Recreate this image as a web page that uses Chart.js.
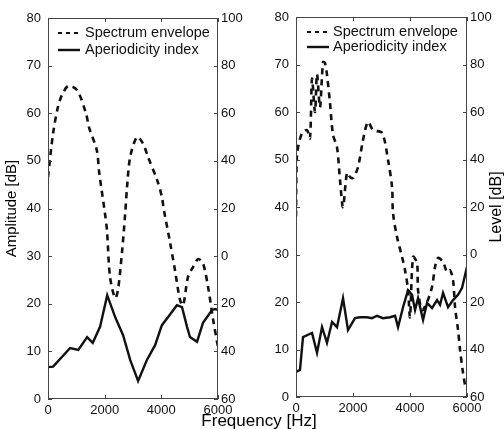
<!DOCTYPE html>
<html>
<head>
<meta charset="utf-8">
<script src="https://cdn.jsdelivr.net/npm/chart.js@4.4.1/dist/chart.umd.min.js"></script>
<style>
  html, body { margin: 0; padding: 0; background: #fff; }
  #wrap { position: relative; width: 504px; height: 429px; overflow: hidden; font-family: 'Liberation Sans', Arial, sans-serif; color: #000; }
  canvas { position: absolute; top: 0; }
  .lbl { position: absolute; white-space: nowrap; font-size: 17px; transform: translate(-50%, -50%); z-index: 2; }
</style>
</head>
<body>
<div id="wrap">
  <canvas id="leftChart" width="252" height="429" style="left:0"></canvas>
  <canvas id="rightChart" width="252" height="429" style="left:252px"></canvas>
  <div class="lbl" style="left:259px; top:421px">Frequency [Hz]</div>
</div>
<script>
// left panel: spectrum envelope (amplitude dB) and aperiodicity index (level dB)
const leftEnvFreq = [0, 180, 350, 490, 710, 1020, 1340, 1450, 1720, 1810, 2010, 2080, 2190, 2370, 2470, 2610, 2720, 2790, 2900, 3140, 3350, 3530, 3850, 4020, 4090, 4310, 4480, 4660, 4770, 4940, 5120, 5300, 5470, 5650, 5830, 6000];
const leftEnvAmp = [46.6, 55.8, 61.3, 63.8, 65.7, 64.9, 60, 57, 52.3, 47.4, 39, 35.5, 25.6, 21.2, 22.9, 30.7, 38.6, 44.5, 50.8, 55, 53.7, 50.8, 46, 42.4, 39.7, 32.8, 27.1, 20.8, 19.7, 25.6, 27.7, 29.4, 28.5, 23.5, 16.6, 10.9];
const leftAperFreq = [0, 180, 780, 1070, 1380, 1580, 1840, 2090, 2370, 2650, 2900, 3180, 3490, 3780, 4020, 4240, 4550, 4730, 4910, 5010, 5260, 5470, 5790, 5900, 6000];
const leftAperLevel = [-46.6, -46.4, -38.6, -39.4, -34, -36.4, -29.6, -16.4, -25.6, -33.2, -43.6, -52.4, -43.6, -37.4, -29, -25.6, -20.6, -21.4, -29.8, -34, -36, -28, -22.6, -22.2, -22.6];

// right panel
const rightEnvFreq = [0, 35, 211, 386, 491, 562, 667, 737, 842, 948, 1018, 1088, 1193, 1299, 1439, 1544, 1650, 1790, 1895, 2001, 2176, 2352, 2527, 2703, 3019, 3229, 3370, 3405, 3545, 3721, 3826, 3931, 4001, 4107, 4247, 4282, 4423, 4600, 4774, 4879, 4984, 5160, 5300, 5405, 5511, 5581, 5686, 5756, 5862, 5932];
const rightEnvAmp = [38, 51, 55.6, 56.2, 54.5, 67, 60, 68, 61, 70.5, 70.3, 67.8, 61.9, 55.2, 52.6, 45.7, 40, 47.2, 46.3, 46.1, 48.4, 54.1, 57.9, 56.2, 55.6, 49.9, 44.2, 38.7, 33.7, 29.5, 26.7, 22.5, 16.8, 29.5, 28.2, 22.5, 18.3, 20, 23.2, 27.4, 29.3, 28.4, 26.3, 26.7, 24.6, 18.9, 14.1, 9.9, 5, 2.5];
const rightAperFreq = [0, 140, 246, 421, 562, 737, 913, 1088, 1264, 1439, 1650, 1825, 2071, 2246, 2492, 2668, 2843, 3054, 3299, 3475, 3580, 3756, 3931, 4072, 4177, 4282, 4458, 4598, 4774, 4949, 5054, 5160, 5335, 5511, 5686, 5827, 6000];
const rightAperLevel = [-49.4, -48.6, -34.8, -33.8, -33, -41.4, -30.6, -37.2, -28.4, -30.6, -18.4, -31.8, -26.8, -26.4, -26.4, -26.8, -25.8, -26.8, -26.4, -25.8, -30.6, -22.2, -15, -17, -23.4, -18.4, -27.6, -20.4, -22.6, -19.2, -21.2, -16.2, -22.2, -19.2, -17, -14, -5.2];

const freqTicks = [0, 2000, 4000, 6000];
const seriesNames = ['Spectrum envelope', 'Aperiodicity index'];

Chart.defaults.font.family = "'Liberation Sans', Arial, sans-serif";
Chart.defaults.font.size = 13;
Chart.defaults.color = '#111';

function zip(xs, ys) {
    return xs.map((x, i) => ({ x: x, y: ys[i] }));
}

// box around plot area with small inward ticks (matlab style)
const boxTicks = {
    id: 'boxTicks',
    afterDraw(chart) {
        const ctx = chart.ctx;
        const a = chart.chartArea;
        const len = 4;
        ctx.save();
        ctx.strokeStyle = '#444';
        ctx.lineWidth = 1;
        ctx.strokeRect(a.left + 0.5, a.top + 0.5, a.right - a.left - 1, a.bottom - a.top - 1);
        ctx.beginPath();
        chart.scales.x.ticks.forEach(t => {
            const px = Math.round(chart.scales.x.getPixelForValue(t.value)) + 0.5;
            ctx.moveTo(px, a.bottom); ctx.lineTo(px, a.bottom - len);
            ctx.moveTo(px, a.top); ctx.lineTo(px, a.top + len);
        });
        chart.scales.y.ticks.forEach(t => {
            const py = Math.round(chart.scales.y.getPixelForValue(t.value)) + 0.5;
            ctx.moveTo(a.left, py); ctx.lineTo(a.left + len, py);
        });
        chart.scales.y2.ticks.forEach(t => {
            const py = Math.round(chart.scales.y2.getPixelForValue(t.value)) + 0.5;
            ctx.moveTo(a.right, py); ctx.lineTo(a.right - len, py);
        });
        ctx.stroke();
        ctx.restore();
    }
};

// legend drawn inside the top-left corner of the plot
const innerLegend = {
    id: 'innerLegend',
    afterDraw(chart, args, opts) {
        const ctx = chart.ctx;
        const a = chart.chartArea;
        ctx.save();
        ctx.font = "14.5px 'Liberation Sans', Arial, sans-serif";
        ctx.textBaseline = 'middle';
        chart.data.datasets.forEach((ds, i) => {
            const y = a.top + opts.rows[i];
            ctx.beginPath();
            ctx.strokeStyle = ds.borderColor;
            ctx.lineWidth = i === 0 ? 2 : ds.borderWidth;
            ctx.setLineDash(i === 0 ? [4, 4] : []);
            ctx.moveTo(a.left + opts.lineStart, y);
            ctx.lineTo(a.left + opts.lineStart + 22, y);
            ctx.stroke();
            ctx.setLineDash([]);
            ctx.fillStyle = '#111';
            ctx.fillText(ds.label, a.left + opts.textStart, y);
        });
        ctx.restore();
    }
};

// rotated axis title at a given canvas x, centred on the plot height
const sideTitle = {
    id: 'sideTitle',
    afterDraw(chart, args, opts) {
        if (!opts.text) return;
        const ctx = chart.ctx;
        const a = chart.chartArea;
        ctx.save();
        ctx.translate(opts.x, (a.top + a.bottom) / 2);
        ctx.rotate(-Math.PI / 2);
        ctx.font = opts.size + "px 'Liberation Sans', Arial, sans-serif";
        ctx.fillStyle = '#000';
        ctx.textAlign = 'center';
        ctx.textBaseline = 'middle';
        ctx.fillText(opts.text, 0, 0);
        ctx.restore();
    }
};

function renderPanel(canvasId, envF, envA, aperF, aperL, box) {
    const ctx = document.getElementById(canvasId).getContext('2d');
    new Chart(ctx, {
        type: 'line',
        data: {
            datasets: [
                {
                    label: seriesNames[0],
                    data: zip(envF, envA),
                    yAxisID: 'y',
                    borderColor: '#111',
                    borderWidth: 2.6,
                    borderDash: [6, 5],
                    tension: 0.3,
                    pointRadius: 0
                },
                {
                    label: seriesNames[1],
                    data: zip(aperF, aperL),
                    yAxisID: 'y2',
                    borderColor: '#111',
                    borderWidth: 2.4,
                    tension: 0,
                    pointRadius: 0
                }
            ]
        },
        options: {
            responsive: false,
            animation: false,
            layout: { padding: { top: box.top, left: 0, right: 0, bottom: 0 } },
            plugins: {
                legend: { display: false },
                tooltip: { enabled: false },
                innerLegend: box.legend,
                sideTitle: box.title
            },
            scales: {
                x: {
                    type: 'linear',
                    min: 0,
                    max: 6000,
                    afterBuildTicks: s => { s.ticks = freqTicks.map(v => ({ value: v })); },
                    afterFit: s => { s.height = box.bottom; },
                    grid: { display: false, drawTicks: false },
                    border: { display: false },
                    ticks: { padding: 4, maxRotation: 0, autoSkip: false, color: '#111', callback: v => String(v) }
                },
                y: {
                    position: 'left',
                    min: 0,
                    max: 80,
                    afterFit: s => { s.width = box.left; },
                    grid: { display: false, drawTicks: false },
                    border: { display: false },
                    ticks: { stepSize: 10, padding: 7, color: '#111' }
                },
                y2: {
                    position: 'right',
                    min: -60,
                    max: 100,
                    afterFit: s => { s.width = box.right; },
                    grid: { display: false, drawTicks: false },
                    border: { display: false },
                    ticks: { stepSize: 20, padding: 3, color: '#111', callback: v => String(Math.abs(v)) }
                }
            }
        },
        plugins: [boxTicks, innerLegend, sideTitle]
    });
}

renderPanel('leftChart', leftEnvFreq, leftEnvAmp, leftAperFreq, leftAperLevel,
    { top: 18, bottom: 30, left: 48, right: 34,
      legend: { rows: [15, 32], lineStart: 10, textStart: 37 },
      title: { text: 'Amplitude [dB]', x: 12, size: 15 } });
renderPanel('rightChart', rightEnvFreq, rightEnvAmp, rightAperFreq, rightAperLevel,
    { top: 17, bottom: 32, left: 44, right: 37,
      legend: { rows: [15, 30], lineStart: 11, textStart: 37 },
      title: { text: 'Level [dB]', x: 245, size: 16 } });
</script>
</body>
</html>
